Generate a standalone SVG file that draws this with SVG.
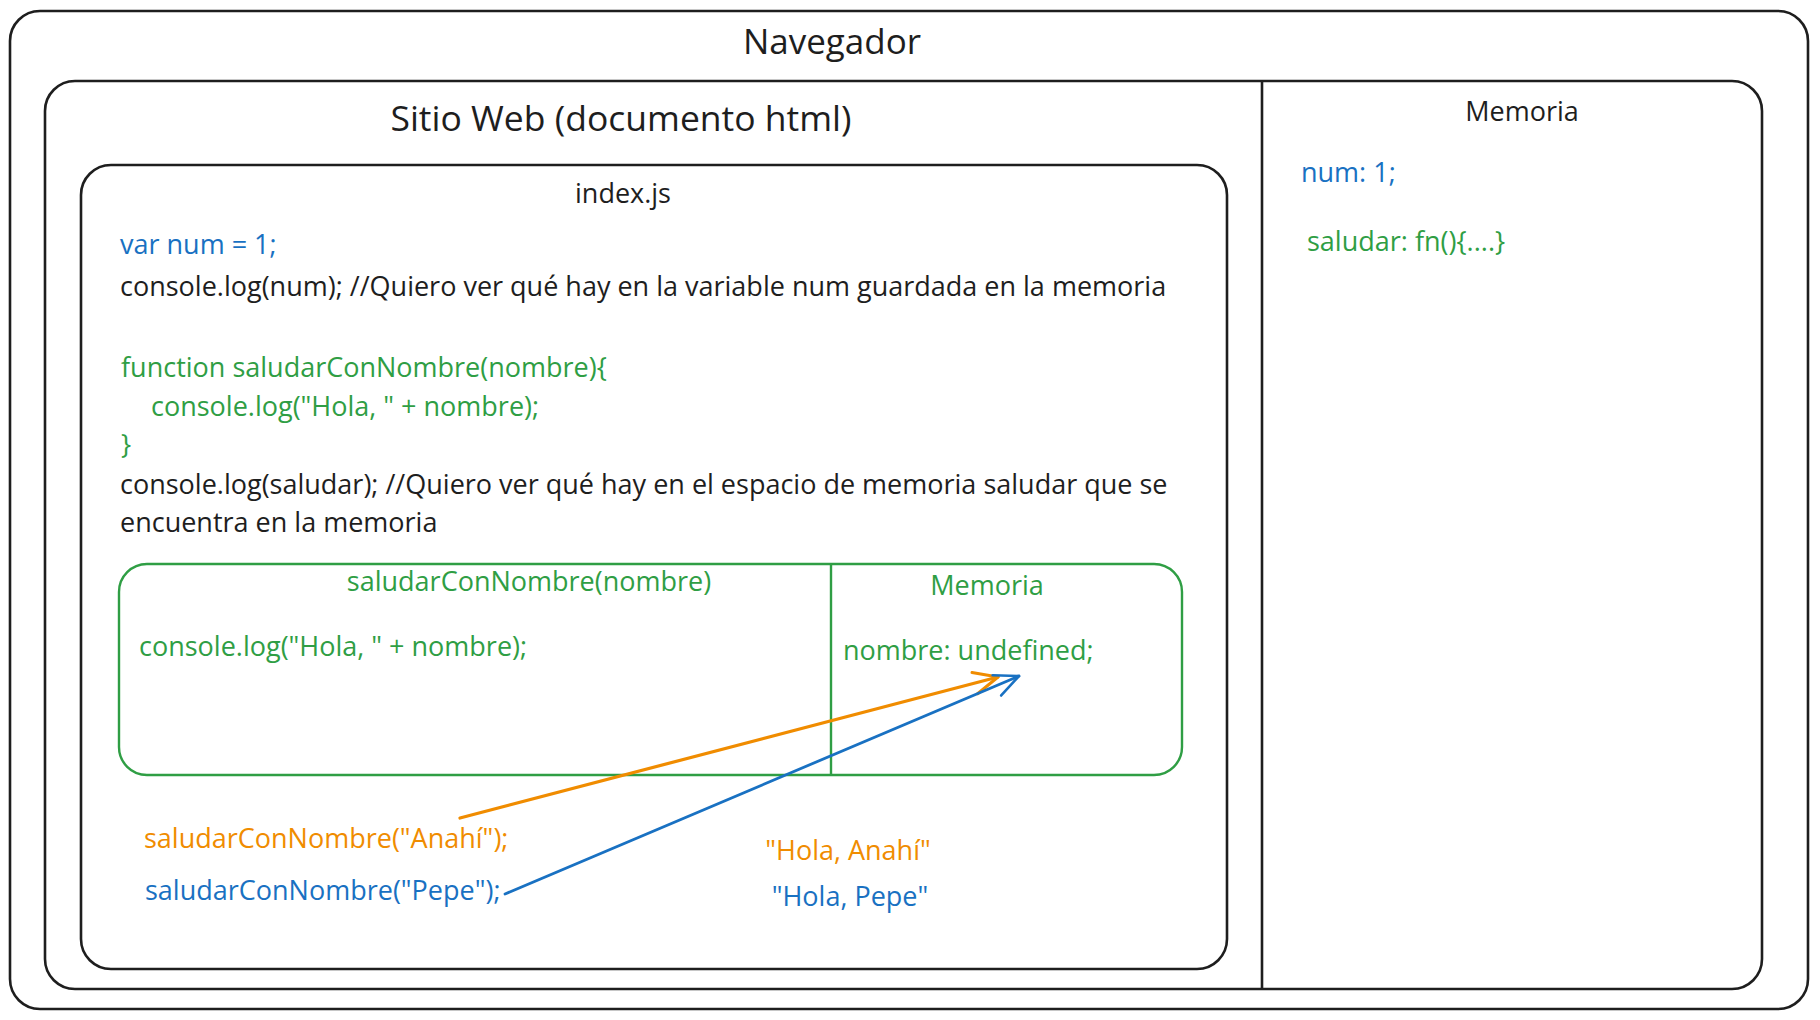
<svg xmlns="http://www.w3.org/2000/svg" width="1820" height="1020" viewBox="0 0 1820 1020">
<style>
  text { font-family: "Open Sans", Lato, "Liberation Sans", sans-serif; }
  .box { fill: none; stroke: #1e1e1e; stroke-width: 2.6; }
  .gbox { fill: none; stroke: #2f9e44; stroke-width: 2.4; }
  .t { font-size: 27px; fill: #1e1e1e; }
  .title { font-size: 35.5px; fill: #1e1e1e; text-anchor: middle; }
  .mid { text-anchor: middle; }
  .blue { fill: #1971c2; }
  .green { fill: #2f9e44; }
  .orange { fill: #f08c00; }
</style>
<defs>
  <marker id="ahO" viewBox="0 0 28 28" refX="26" refY="14" markerWidth="28" markerHeight="28" markerUnits="userSpaceOnUse" orient="auto">
    <path d="M2,3 L26,14 L2,25" fill="none" stroke="#f08c00" stroke-width="3" stroke-linecap="round" stroke-linejoin="round"/>
  </marker>
  <marker id="ahB" viewBox="0 0 28 28" refX="26" refY="14" markerWidth="28" markerHeight="28" markerUnits="userSpaceOnUse" orient="auto">
    <path d="M2,3 L26,14 L2,25" fill="none" stroke="#1971c2" stroke-width="2.6" stroke-linecap="round" stroke-linejoin="round"/>
  </marker>
</defs>
<rect width="1820" height="1020" fill="#ffffff"/>

<g id="navegador">
  <rect class="box" x="10" y="11" width="1798" height="998" rx="30"/>
  <text class="title" x="832" y="54" style="font-size:35px">Navegador</text>
</g>

<g id="sitio-web">
  <rect class="box" x="45" y="81" width="1717" height="908" rx="30"/>
  <line class="box" x1="1262" y1="81" x2="1262" y2="989"/>
  <text class="title" x="621" y="131">Sitio Web (documento html)</text>
</g>

<g id="memoria-global">
  <text class="t mid" x="1522" y="121">Memoria</text>
  <text class="t blue" x="1301" y="182">num: 1;</text>
  <text class="t green" x="1307" y="251">saludar: fn(){....}</text>
</g>

<g id="index-js">
  <rect class="box" x="81" y="165" width="1146" height="804" rx="30"/>
  <text class="t mid" x="623" y="203">index.js</text>
  <text class="t blue" x="120" y="254">var num = 1;</text>
  <text class="t" x="120" y="296">console.log(num); //Quiero ver qué hay en la variable num guardada en la memoria</text>
  <text class="t green" x="121" y="377">function saludarConNombre(nombre){</text>
  <text class="t green" x="151" y="416">console.log("Hola, " + nombre);</text>
  <text class="t green" x="121" y="454">}</text>
  <text class="t" x="120" y="494">console.log(saludar); //Quiero ver qué hay en el espacio de memoria saludar que se</text>
  <text class="t" x="120" y="532">encuentra en la memoria</text>
</g>

<g id="funcion-saludar">
  <rect class="gbox" x="119" y="564" width="1063" height="211" rx="28"/>
  <line class="gbox" x1="831" y1="564" x2="831" y2="775"/>
  <text class="t green mid" x="529" y="591">saludarConNombre(nombre)</text>
  <text class="t green" x="139" y="656">console.log("Hola, " + nombre);</text>
</g>

<g id="memoria-funcion">
  <text class="t green mid" x="987" y="595">Memoria</text>
  <text class="t green" x="843" y="660">nombre: undefined;</text>
</g>

<g id="llamada-anahi">
  <text class="t orange" x="144" y="848">saludarConNombre("Anahí");</text>
</g>
<g id="llamada-pepe">
  <text class="t blue" x="145" y="900">saludarConNombre("Pepe");</text>
</g>
<g id="salida-anahi">
  <text class="t orange mid" x="848" y="860">"Hola, Anahí"</text>
</g>
<g id="salida-pepe">
  <text class="t blue mid" x="850" y="906">"Hola, Pepe"</text>
</g>

<g id="connectors">
  <line x1="460" y1="818" x2="998" y2="677" stroke="#f08c00" stroke-width="3.2" stroke-linecap="round" marker-end="url(#ahO)"/>
  <line x1="505" y1="894" x2="1019" y2="676" stroke="#1971c2" stroke-width="2.8" stroke-linecap="round" marker-end="url(#ahB)"/>
</g>
</svg>
